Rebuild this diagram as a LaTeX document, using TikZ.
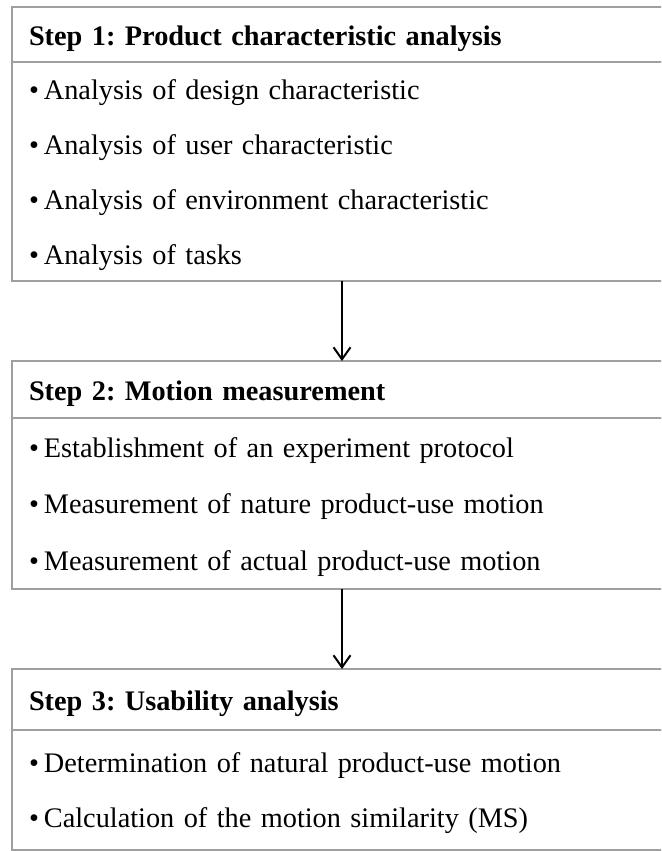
\documentclass[tikz,border=0pt]{standalone}
\usepackage{fontspec}
\setmainfont{Liberation Serif}
\usetikzlibrary{positioning, arrows.meta}
\newcommand{\itm}{\textbullet\hspace{2.5pt}}

\begin{document}
\begin{tikzpicture}[x=0.5pt, y=-0.5pt, font=\fontsize{14.15pt}{27.5pt}\selectfont\frenchspacing,
		stephead/.style={draw=gray!75, line width=0.8pt, outer sep=0pt, text width=313pt, inner xsep=8.5pt, inner ysep=0pt, text height=13.6pt, text depth=3pt, align=left, font=\fontsize{14.15pt}{17pt}\selectfont\bfseries\frenchspacing},
		stepbody/.style={draw=gray!75, line width=0.8pt, outer sep=0pt, text width=313pt, inner xsep=8.5pt, inner ysep=0pt, align=left, execute at begin node={\rule{0pt}{13.2pt}}},
		flow/.style={-{Straight Barb[length=6pt, width=8.5pt]}, line width=1pt}]
		\clip (0,0) rectangle (661,851);
		% step 1
		\node [stephead, minimum height=27.5pt] (head1) at (342, 34.5) {Step 1: Product characteristic analysis};
		\node [stepbody, minimum height=109.5pt, below=0pt of head1] (body1) {\itm Analysis of design characteristic\\
			\itm Analysis of user characteristic\\
			\itm Analysis of environment characteristic\\
			\itm Analysis of tasks};
		% step 2
		\node [stephead, minimum height=28.5pt, below=40pt of body1] (head2) {Step 2: Motion measurement};
		\node [stepbody, minimum height=85.5pt, below=0pt of head2, font=\fontsize{14.15pt}{28.25pt}\selectfont] (body2) {\itm Establishment of an experiment protocol\\
			\itm Measurement of nature product-use motion\\
			\itm Measurement of actual product-use motion};
		% step 3
		\node [stephead, minimum height=30.5pt, below=40pt of body2] (head3) {Step 3: Usability analysis};
		\node [stepbody, minimum height=60pt, below=0pt of head3] (body3) {\itm Determination of natural product-use motion\\
			\itm Calculation of the motion similarity (MS)};
		\draw [flow] (body1.south) -- (head2.north);
		\draw [flow] (body2.south) -- (head3.north);
	\end{tikzpicture}
\end{document}
